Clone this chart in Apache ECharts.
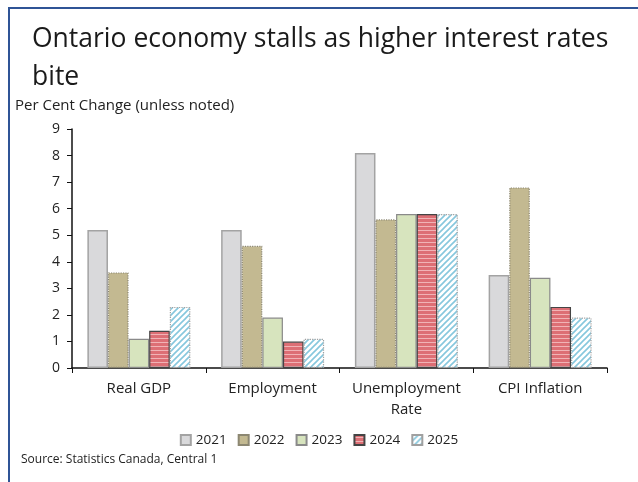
<!DOCTYPE html>
<html lang="en">
<head>
    <meta charset="UTF-8">
    <title>Ontario economy</title>
    <style>
        html, body { margin: 0; height: 100%; overflow: hidden; background: #fff; }
        #main { width: 638px; height: 482px; }
    </style>
</head>
<body>
    <div id="main"></div>
    <script src="https://cdn.jsdelivr.net/npm/echarts@6/dist/echarts.min.js"></script>
    <script>
        // data
        const categories = ['Real GDP', 'Employment', 'Unemployment\nRate', 'CPI Inflation']
        const years = ['2021', '2022', '2023', '2024', '2025']
        const v2021 = [5.2, 5.2, 8.1, 3.5]
        const v2022 = [3.6, 4.6, 5.6, 6.8]
        const v2023 = [1.1, 1.9, 5.8, 3.4]
        const v2024 = [1.4, 1.0, 5.8, 2.3]
        const v2025 = [2.3, 1.1, 5.8, 1.9]
        const yTicks = { min: 0, max: 9, interval: 1 }

        // red horizontal stripes
        function stripes() {
            const c = document.createElement('canvas')
            c.width = 4; c.height = 4
            const ctx = c.getContext('2d')
            ctx.fillStyle = '#dd6f75'
            ctx.fillRect(0, 0, 4, 4)
            ctx.fillStyle = '#f1b3b6'
            ctx.fillRect(0, 2, 4, 1)
            return c
        }
        // light blue diagonal hatch
        function hatch() {
            const c = document.createElement('canvas')
            c.width = 6; c.height = 6
            const ctx = c.getContext('2d')
            ctx.fillStyle = '#ffffff'
            ctx.fillRect(0, 0, 6, 6)
            ctx.strokeStyle = '#86c7dd'
            ctx.lineWidth = 1.6
            ctx.beginPath()
            ctx.moveTo(-1, 7); ctx.lineTo(7, -1)
            ctx.moveTo(-4, 4); ctx.lineTo(4, -4)
            ctx.moveTo(2, 10); ctx.lineTo(10, 2)
            ctx.stroke()
            return c
        }

        const styles = [
            { color: '#d9d9db', borderColor: '#a3a3a3', borderWidth: 1.5 },
            { color: '#c3b991', borderColor: '#8c8772', borderWidth: 1.2, borderType: 'dotted' },
            { color: '#d7e4be', borderColor: '#8a8a8a', borderWidth: 1.2 },
            { color: { image: stripes(), repeat: 'repeat' }, borderColor: '#444', borderWidth: 1.2 },
            { color: { image: hatch(), repeat: 'repeat' }, borderColor: '#a0a0a0', borderWidth: 1.2, borderType: 'dotted' }
        ]
        const values = [v2021, v2022, v2023, v2024, v2025]

        var myChart = echarts.init(document.getElementById('main'))

        var option = {
            animation: false,
            textStyle: { fontFamily: 'Open Sans' },
            title: {
                text: 'Ontario economy stalls as higher interest rates\nbite',
                left: 27,
                top: 15,
                textStyle: { fontSize: 26.5, fontWeight: 'normal', color: '#1a1a1a', lineHeight: 38, fontFamily: 'Open Sans' }
            },
            legend: {
                data: years,
                icon: 'rect',
                top: 428,
                left: 'center',
                itemWidth: 10,
                itemHeight: 10,
                itemGap: 11,
                textStyle: { fontSize: 13.5, color: '#222' }
            },
            grid: { left: 72, right: 31, top: 129, bottom: 114 },
            xAxis: {
                type: 'category',
                data: categories,
                axisLine: { lineStyle: { color: '#111', width: 1.5 } },
                axisTick: { show: true, length: 5, lineStyle: { color: '#111' } },
                axisLabel: { fontSize: 15, color: '#222', margin: 10, lineHeight: 21, interval: 0 }
            },
            yAxis: {
                type: 'value',
                min: yTicks.min,
                max: yTicks.max,
                interval: yTicks.interval,
                splitLine: { show: false },
                axisLine: { show: true, lineStyle: { color: '#111', width: 1.5 } },
                axisTick: { show: true, length: 5, lineStyle: { color: '#111' } },
                axisLabel: { fontSize: 14, color: '#222', margin: 12 }
            },
            series: years.map((y, i) => ({
                name: y,
                type: 'bar',
                data: values[i],
                barGap: '0%',
                barCategoryGap: '23%',
                itemStyle: styles[i]
            })),
            graphic: [
                {
                    type: 'polyline',
                    shape: { points: [[9, 482], [9, 8], [638, 8]] },
                    style: { stroke: '#2f5496', lineWidth: 2, fill: null }
                },
                {
                    type: 'text',
                    left: 15,
                    top: 98,
                    style: { text: 'Per Cent Change (unless noted)', font: '15px "Open Sans"', fill: '#222' }
                },
                {
                    type: 'text',
                    left: 21,
                    top: 454,
                    style: { text: 'Source: Statistics Canada, Central 1', font: '12px "Open Sans"', fill: '#222' }
                }
            ]
        }
        myChart.setOption(option)
    </script>
</body>
</html>
